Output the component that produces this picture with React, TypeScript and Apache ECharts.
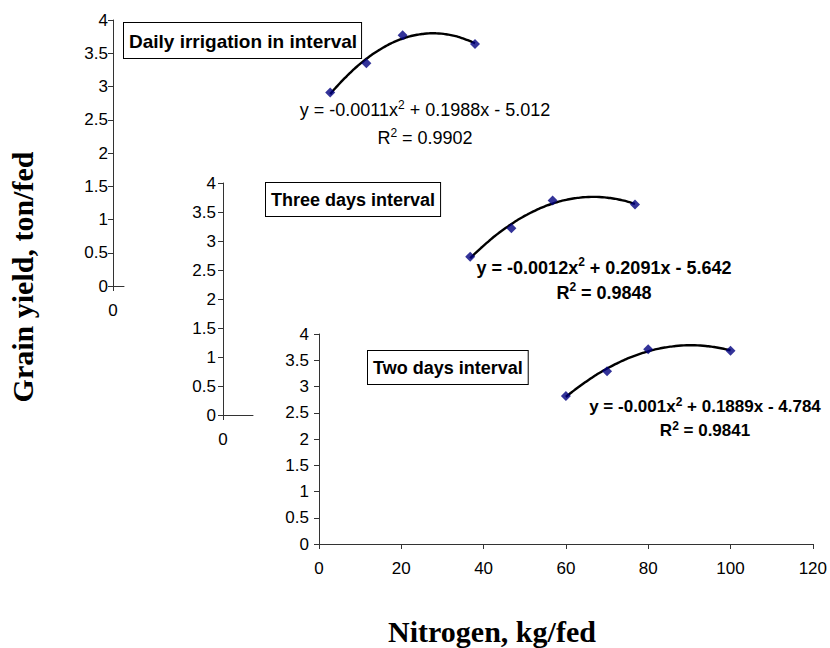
import React, { useEffect, useRef } from "react";
import * as echarts from "echarts";

// ---- data ----
const nitrogen = [60, 70, 80, 100];
const dailyYield = [2.91, 3.35, 3.77, 3.64];
const threeDayYield = [2.73, 3.22, 3.7, 3.63];
const twoDayYield = [2.82, 3.29, 3.71, 3.68];

const xMin = 0;
const xMax = 120;
const xStep = 20;
const yMin = 0;
const yMax = 4;
const yStep = 0.5;

const boxLabels = ["Daily irrigation in interval", "Three days interval", "Two days interval"];
const equations = [
  ["-0.0011", "0.1988", "5.012", "0.9902"],
  ["-0.0012", "0.2091", "5.642", "0.9848"],
  ["-0.001", "0.1889", "4.784", "0.9841"],
];
const yTitle = "Grain yield, ton/fed";
const xTitle = "Nitrogen, kg/fed";

const SANS = '"Liberation Sans", Arial, sans-serif';
const SERIF = '"Liberation Serif", "Times New Roman", serif';

// least-squares quadratic (Excel polynomial trendline, order 2)
function fitQuadratic(xs: number[], ys: number[]) {
  let n = xs.length, s1 = 0, s2 = 0, s3 = 0, s4 = 0, t0 = 0, t1 = 0, t2 = 0;
  for (let i = 0; i < n; i++) {
    const x = xs[i], y = ys[i];
    s1 += x; s2 += x * x; s3 += x * x * x; s4 += x * x * x * x;
    t0 += y; t1 += x * y; t2 += x * x * y;
  }
  const M = [
    [s4, s3, s2, t2],
    [s3, s2, s1, t1],
    [s2, s1, n, t0],
  ];
  for (let c = 0; c < 3; c++) {
    let p = c;
    for (let r = c + 1; r < 3; r++) if (Math.abs(M[r][c]) > Math.abs(M[p][c])) p = r;
    [M[c], M[p]] = [M[p], M[c]];
    for (let r = 0; r < 3; r++) {
      if (r === c) continue;
      const f = M[r][c] / M[c][c];
      for (let k = c; k < 4; k++) M[r][k] -= f * M[c][k];
    }
  }
  return [M[0][3] / M[0][0], M[1][3] / M[1][1], M[2][3] / M[2][2]];
}

function trend(xs: number[], ys: number[]) {
  const [a, b, c] = fitQuadratic(xs, ys);
  const lo = Math.min(...xs), hi = Math.max(...xs);
  const out: number[][] = [];
  const steps = 60;
  for (let i = 0; i <= steps; i++) {
    const x = lo + ((hi - lo) * i) / steps;
    out.push([x, a * x * x + b * x + c]);
  }
  return out;
}

const pairs = (ys: number[]) => nitrogen.map((x, i) => [x, ys[i]]);

export default function App() {
  const ref = useRef<HTMLDivElement>(null);
  useEffect(() => {
    document.body.style.margin = "0";
    if (!ref.current) return;
    const chart = echarts.init(ref.current, undefined, { renderer: "svg" });

    const axisColor = "#333";
    const labelStyle = { color: "#000", fontSize: 17, fontFamily: SANS };

    const yAxisShown = (gridIndex: number, margin: number) => ({
      type: "value",
      gridIndex,
      min: yMin,
      max: yMax,
      interval: yStep,
      axisLine: { show: true, lineStyle: { color: axisColor, width: 1 } },
      axisTick: { show: true, inside: false, length: 5, lineStyle: { color: axisColor } },
      axisLabel: { ...labelStyle, margin },
      splitLine: { show: false },
    });
    const yAxisHidden = (gridIndex: number) => ({
      type: "value", gridIndex, min: yMin, max: yMax, show: false,
    });
    const xAxisHidden = (gridIndex: number) => ({
      type: "value", gridIndex, min: xMin, max: xMax, show: false,
    });
    const xAxisStub = (gridIndex: number) => ({
      type: "value",
      gridIndex,
      min: 0,
      max: 1,
      interval: 1,
      axisLine: { show: true, lineStyle: { color: axisColor, width: 1 } },
      axisTick: { show: true, length: 5, customValues: [0], lineStyle: { color: axisColor } },
      axisLabel: {
        ...labelStyle,
        margin: 16,
        customValues: [0],
        formatter: (v: number) => (v === 0 ? "0" : ""),
      },
      splitLine: { show: false },
    });

    const scatter = (idx: number, ys: number[]) => ({
      type: "scatter",
      xAxisIndex: idx,
      yAxisIndex: idx,
      data: pairs(ys),
      symbol: "diamond",
      symbolSize: 10,
      itemStyle: { color: "#000080" },
      z: 4,
    });
    const curve = (idx: number, ys: number[]) => ({
      type: "line",
      xAxisIndex: idx,
      yAxisIndex: idx,
      data: trend(nitrogen, ys),
      showSymbol: false,
      smooth: true,
      lineStyle: { color: "#000", width: 2.4 },
      z: 3,
    });

    const eqText = (e: string[]) =>
      `{n|y = ${e[0]}x}{s|2}{n| + ${e[1]}x - ${e[2]}}\n{n|R}{s|2}{n| = ${e[3]}}`;
    const rich = (size: number, weight: string, lh: number) => ({
      n: { fontSize: size, fontWeight: weight, fontFamily: SANS, fill: "#000", color: "#000", lineHeight: lh },
      s: {
        fontSize: Math.round(size * 0.68), fontWeight: weight, fontFamily: SANS, fill: "#000", color: "#000",
        lineHeight: lh, verticalAlign: "top", padding: [Math.max(0, Math.round(lh / 2 - size * 0.62)), 0, 0, 0],
      },
    });

    const box = (text: string, x: number, y: number, size: number, lh: number, pad: number[]) => ({
      type: "text",
      x, y, z: 10,
      style: {
        text,
        fontSize: size, fontWeight: "bold", fontFamily: SANS, fill: "#000",
        lineHeight: lh,
        backgroundColor: "#fff", borderColor: "#000", borderWidth: 1,
        padding: pad,
        align: "left", verticalAlign: "top",
      },
    });

    const option: any = {
      animation: false,
      backgroundColor: "#fff",
      grid: [
        { left: 113, top: 20, width: 434.4, height: 266 },
        { left: 113, top: 20, width: 11, height: 266 },
        { left: 223, top: 183, width: 494.4, height: 232 },
        { left: 223, top: 183, width: 30, height: 232 },
        { left: 319, top: 334, width: 497, height: 210 },
      ],
      xAxis: [
        xAxisHidden(0),
        xAxisStub(1),
        xAxisHidden(2),
        xAxisStub(3),
        {
          type: "value",
          gridIndex: 4,
          min: xMin,
          max: xMax,
          interval: xStep,
          axisLine: { show: true, lineStyle: { color: axisColor, width: 1 } },
          axisTick: { show: true, length: 5, lineStyle: { color: axisColor } },
          axisLabel: { ...labelStyle, margin: 16 },
          splitLine: { show: false },
        },
      ],
      yAxis: [yAxisShown(0, 5), yAxisHidden(1), yAxisShown(2, 7), yAxisHidden(3), yAxisShown(4, 10)],
      series: [
        curve(0, dailyYield), scatter(0, dailyYield),
        curve(2, threeDayYield), scatter(2, threeDayYield),
        curve(4, twoDayYield), scatter(4, twoDayYield),
      ],
      graphic: [
        box(boxLabels[0], 124, 23, 19, 22, [7, 4, 6, 5]),
        box(boxLabels[1], 266, 183, 18, 21, [6, 5, 6, 5]),
        box(boxLabels[2], 368, 351, 18, 21, [6, 5, 6, 5]),
        {
          type: "text", x: 425, y: 96, z: 10,
          style: { text: eqText(equations[0]), rich: rich(18, "normal", 28), align: "center", verticalAlign: "top", fill: "#000" },
        },
        {
          type: "text", x: 604, y: 255, z: 10,
          style: { text: eqText(equations[1]), rich: rich(18, "bold", 25), align: "center", verticalAlign: "top", fill: "#000" },
        },
        {
          type: "text", x: 705, y: 395, z: 10,
          style: { text: eqText(equations[2]), rich: rich(17, "bold", 23.5), align: "center", verticalAlign: "top", fill: "#000" },
        },
        {
          type: "text", x: 22, y: 277, rotation: Math.PI / 2, z: 10,
          style: { text: yTitle, fontSize: 30, fontWeight: "bold", fontFamily: SERIF, fill: "#000", align: "center", verticalAlign: "middle" },
        },
        {
          type: "text", x: 492, y: 631, z: 10,
          style: { text: xTitle, fontSize: 30, fontWeight: "bold", fontFamily: SERIF, fill: "#000", align: "center", verticalAlign: "middle" },
        },
      ],
    };
    chart.setOption(option);
    return () => chart.dispose();
  }, []);
  return <div ref={ref} style={{ width: 830, height: 648 }} />;
}
